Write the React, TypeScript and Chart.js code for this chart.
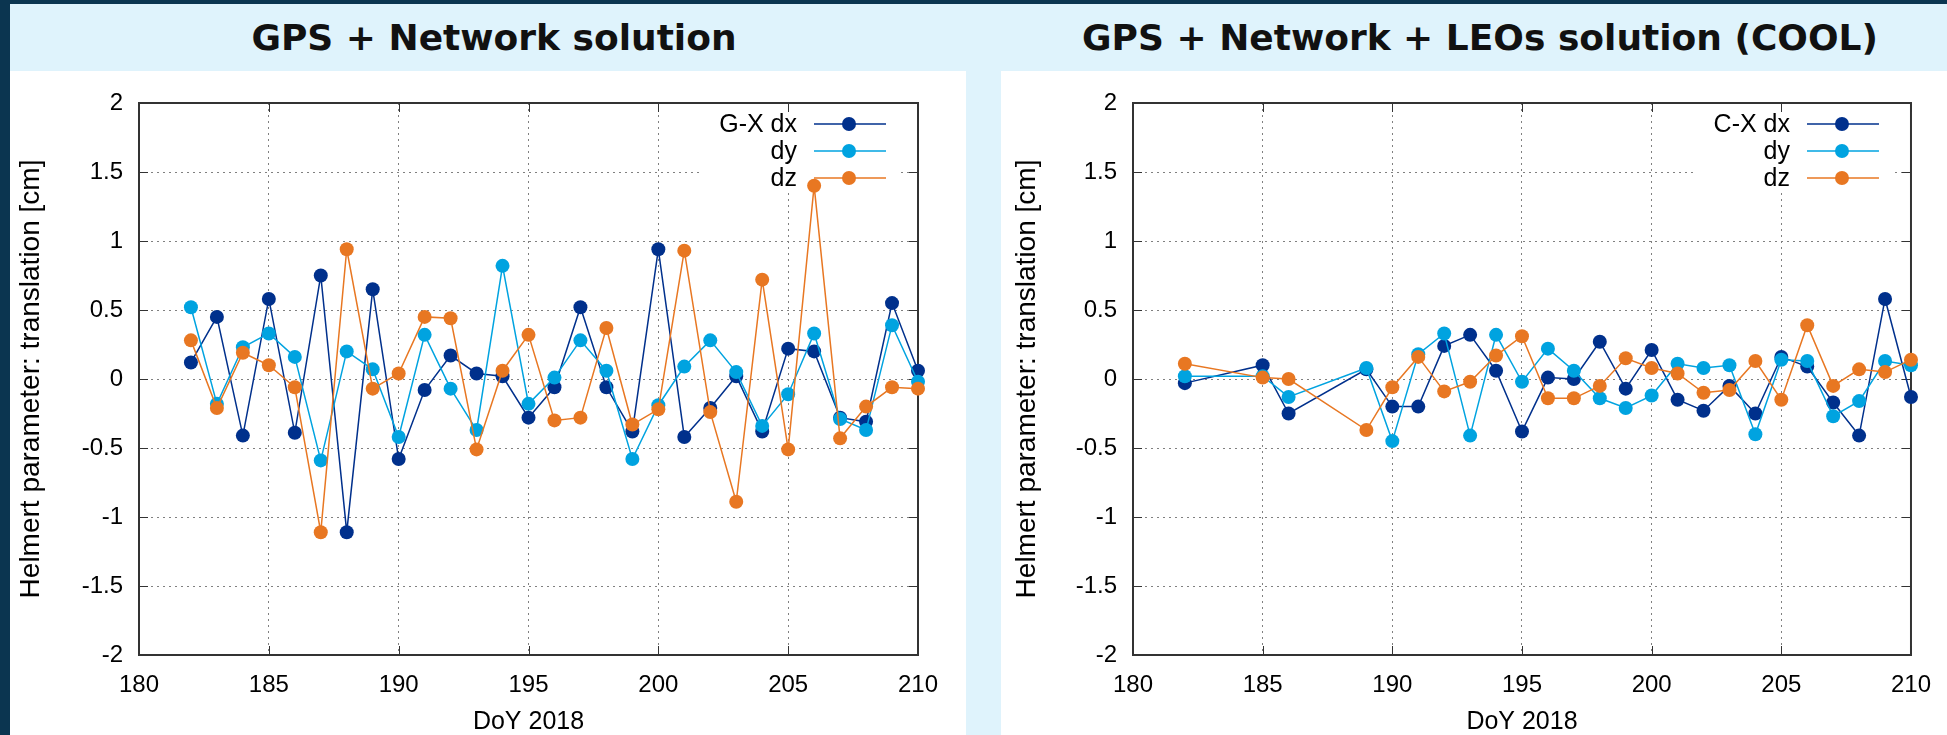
import React, { useEffect, useRef } from "react";
import { Chart, registerables } from "chart.js";

Chart.register(...registerables);

// ---------- data ----------
const gnDays = [182, 183, 184, 185, 186, 187, 188, 189, 190, 191, 192, 193, 194, 195, 196, 197, 198, 199, 200, 201, 202, 203, 204, 205, 206, 207, 208, 209, 210];
const gnDx = [0.12, 0.45, -0.41, 0.58, -0.39, 0.75, -1.11, 0.65, -0.58, -0.08, 0.17, 0.04, 0.02, -0.28, -0.06, 0.52, -0.06, -0.38, 0.94, -0.42, -0.21, 0.02, -0.38, 0.22, 0.2, -0.28, -0.31, 0.55, 0.06];
const gnDy = [0.52, -0.18, 0.23, 0.33, 0.16, -0.59, 0.2, 0.07, -0.42, 0.32, -0.07, -0.37, 0.82, -0.18, 0.01, 0.28, 0.06, -0.58, -0.19, 0.09, 0.28, 0.05, -0.34, -0.11, 0.33, -0.29, -0.37, 0.39, -0.02];
const gnDz = [0.28, -0.21, 0.19, 0.1, -0.06, -1.11, 0.94, -0.07, 0.04, 0.45, 0.44, -0.51, 0.06, 0.32, -0.3, -0.28, 0.37, -0.33, -0.22, 0.93, -0.24, -0.89, 0.72, -0.51, 1.4, -0.43, -0.2, -0.06, -0.07];

const coolDays = [182, 185, 186, 189, 190, 191, 192, 193, 194, 195, 196, 197, 198, 199, 200, 201, 202, 203, 204, 205, 206, 207, 208, 209, 210];
const coolDx = [-0.03, 0.1, -0.25, 0.07, -0.2, -0.2, 0.24, 0.32, 0.06, -0.38, 0.01, 0.0, 0.27, -0.07, 0.21, -0.15, -0.23, -0.05, -0.25, 0.16, 0.09, -0.17, -0.41, 0.58, -0.13];
const coolDy = [0.02, 0.02, -0.13, 0.08, -0.45, 0.18, 0.33, -0.41, 0.32, -0.02, 0.22, 0.06, -0.14, -0.21, -0.12, 0.11, 0.08, 0.1, -0.4, 0.14, 0.13, -0.27, -0.16, 0.13, 0.1];
const coolDz = [0.11, 0.01, 0.0, -0.37, -0.06, 0.16, -0.09, -0.02, 0.17, 0.31, -0.14, -0.14, -0.05, 0.15, 0.08, 0.04, -0.1, -0.08, 0.13, -0.15, 0.39, -0.05, 0.07, 0.05, 0.14];

const gnNames = ["G-X dx", "dy", "dz"];
const coolNames = ["C-X dx", "dy", "dz"];

const xTickValues = [180, 185, 190, 195, 200, 205, 210];
const xTickLabels = ["180", "185", "190", "195", "200", "205", "210"];
const yTickValues = [-2, -1.5, -1, -0.5, 0, 0.5, 1, 1.5, 2];
const yTickLabels = ["-2", "-1.5", "-1", "-0.5", "0", "0.5", "1", "1.5", "2"];

const xTitle = "DoY 2018";
const yTitle = "Helmert parameter: translation [cm]";
const titleGN = "GPS + Network solution";
const titleCool = "GPS + Network + LEOs solution (COOL)";

// ---------- styles ----------
const NAVY = "#00308c";
const CYAN = "#00a3e0";
const ORANGE = "#e87722";
const SERIES_COLORS = [NAVY, CYAN, ORANGE];
const DARK_BG = "#0b3550";
const LIGHT_BG = "#dff3fc";
const FONT = "'Liberation Sans', Arial, Helvetica, sans-serif";

function labelFor(values: number[], labels: string[], v: number) {
  for (let i = 0; i < values.length; i++) {
    if (Math.abs(values[i] - v) < 1e-6) return labels[i];
  }
  return "";
}

const decorPlugin = {
  id: "gnuplotDecor",
  beforeDatasetsDraw(chart: any) {
    const { ctx, chartArea: a } = chart;
    const names: string[] = chart.options.plugins.gnuplotDecor.names;
    const xs = chart.scales.x;
    const ys = chart.scales.y;
    ctx.save();
    // key box clears the grid
    ctx.fillStyle = "#ffffff";
    ctx.fillRect(a.right - 218, a.top + 1, 200, 87);
    // inward tick marks on all four sides
    ctx.strokeStyle = "#333";
    ctx.lineWidth = 1;
    ctx.setLineDash([]);
    ctx.beginPath();
    for (const v of xTickValues) {
      const px = Math.round(xs.getPixelForValue(v)) + 0.5;
      ctx.moveTo(px, a.bottom);
      ctx.lineTo(px, a.bottom - 9);
      ctx.moveTo(px, a.top);
      ctx.lineTo(px, a.top + 9);
    }
    for (const v of yTickValues) {
      const py = Math.round(ys.getPixelForValue(v)) + 0.5;
      ctx.moveTo(a.left, py);
      ctx.lineTo(a.left + 9, py);
      ctx.moveTo(a.right, py);
      ctx.lineTo(a.right - 9, py);
    }
    ctx.stroke();
    // border
    ctx.lineWidth = 2;
    ctx.strokeStyle = "#333";
    ctx.strokeRect(a.left, a.top, a.right - a.left, a.bottom - a.top);
    // key
    ctx.font = `25px ${FONT}`;
    ctx.textAlign = "right";
    ctx.textBaseline = "middle";
    names.forEach((name, i) => {
      const y = a.top + 21 + i * 27;
      ctx.fillStyle = "#000";
      ctx.fillText(name, a.right - 121, y + 1);
      ctx.strokeStyle = SERIES_COLORS[i];
      ctx.lineWidth = 1.5;
      ctx.beginPath();
      ctx.moveTo(a.right - 104, y);
      ctx.lineTo(a.right - 32, y);
      ctx.stroke();
      ctx.fillStyle = SERIES_COLORS[i];
      ctx.beginPath();
      ctx.arc(a.right - 69, y, 7, 0, Math.PI * 2);
      ctx.fill();
    });
    ctx.restore();
  },
};

type PanelProps = {
  canvasLeft: number;
  canvasWidth: number;
  plotLeft: number;
  rightPad: number;
  yTitlePad: number;
  days: number[];
  dx: number[];
  dy: number[];
  dz: number[];
  names: string[];
};

const CANVAS_TOP = 71;
const CANVAS_HEIGHT = 664;

function Panel(p: PanelProps) {
  const ref = useRef<HTMLCanvasElement | null>(null);
  useEffect(() => {
    if (!ref.current) return;
    const series = [p.dx, p.dy, p.dz];
    const datasets = series.map((vals, i) => ({
      label: p.names[i],
      data: p.days.map((d, j) => ({ x: d, y: vals[j] })),
      showLine: true,
      borderColor: SERIES_COLORS[i],
      backgroundColor: SERIES_COLORS[i],
      borderWidth: 1.5,
      pointRadius: 7,
      pointBorderWidth: 0,
      pointBackgroundColor: SERIES_COLORS[i],
      tension: 0,
      order: 2 - i,
      clip: false as any,
    }));
    const tickFont = { family: FONT, size: 24 };
    const chart = new Chart(ref.current, {
      type: "scatter",
      data: { datasets },
      plugins: [decorPlugin],
      options: {
        animation: false,
        responsive: false,
        devicePixelRatio: 1,
        layout: { padding: { top: 32, right: p.rightPad, left: 0, bottom: 0 } },
        plugins: {
          legend: { display: false },
          tooltip: { enabled: false },
          gnuplotDecor: { names: p.names },
        } as any,
        scales: {
          x: {
            type: "linear",
            min: 180,
            max: 210,
            ticks: {
              stepSize: 5,
              padding: 16,
              color: "#000",
              font: tickFont,
              maxRotation: 0,
              callback: (v: any) => labelFor(xTickValues, xTickLabels, Number(v)),
            },
            grid: { color: "#808080", lineWidth: 1, drawTicks: false },
            border: { display: false, dash: [2, 4] },
            title: {
              display: true,
              text: xTitle,
              color: "#000",
              font: { family: FONT, size: 25, lineHeight: 1 },
              padding: { top: 0, bottom: 0 },
            },
            afterFit: (s: any) => {
              s.height = 80;
            },
          },
          y: {
            type: "linear",
            min: -2,
            max: 2,
            ticks: {
              stepSize: 0.5,
              padding: 16,
              color: "#000",
              font: tickFont,
              callback: (v: any) => labelFor(yTickValues, yTickLabels, Number(v)),
            },
            grid: { color: "#808080", lineWidth: 1, drawTicks: false },
            border: { display: false, dash: [2, 4] },
            title: {
              display: true,
              text: yTitle,
              color: "#000",
              font: { family: FONT, size: 28, lineHeight: 1 },
              padding: { top: p.yTitlePad, bottom: 0 },
            },
            afterFit: (s: any) => {
              s.width = p.plotLeft;
            },
          },
        },
      } as any,
    });
    return () => chart.destroy();
  }, []);
  return (
    <div
      style={{
        position: "absolute",
        left: p.canvasLeft,
        top: CANVAS_TOP,
        width: p.canvasWidth,
        height: CANVAS_HEIGHT,
        background: "#fff",
      }}
    >
      <canvas ref={ref} width={p.canvasWidth} height={CANVAS_HEIGHT} style={{ display: "block" }} />
    </div>
  );
}

function Title({ text, center }: { text: string; center: number }) {
  return (
    <div
      style={{
        position: "absolute",
        left: center - 500,
        width: 1000,
        top: 4,
        height: 67,
        lineHeight: "67px",
        textAlign: "center",
        fontFamily: "'DejaVu Sans', Verdana, sans-serif",
        fontWeight: "bold",
        fontSize: 36,
        color: "#111",
        whiteSpace: "nowrap",
      }}
    >
      {text}
    </div>
  );
}

export default function App() {
  return (
    <div
      style={{
        position: "fixed",
        left: 0,
        top: 0,
        width: 1947,
        height: 735,
        background: DARK_BG,
        overflow: "hidden",
      }}
    >
      <div style={{ position: "absolute", left: 10, top: 4, right: 0, bottom: 0, background: LIGHT_BG }} />
      <Title text={titleGN} center={494} />
      <Title text={titleCool} center={1480} />
      <Panel
        canvasLeft={10}
        canvasWidth={956}
        plotLeft={129}
        rightPad={48}
        yTitlePad={7}
        days={gnDays}
        dx={gnDx}
        dy={gnDy}
        dz={gnDz}
        names={gnNames}
      />
      <Panel
        canvasLeft={1001}
        canvasWidth={946}
        plotLeft={132}
        rightPad={35}
        yTitlePad={12}
        days={coolDays}
        dx={coolDx}
        dy={coolDy}
        dz={coolDz}
        names={coolNames}
      />
    </div>
  );
}
